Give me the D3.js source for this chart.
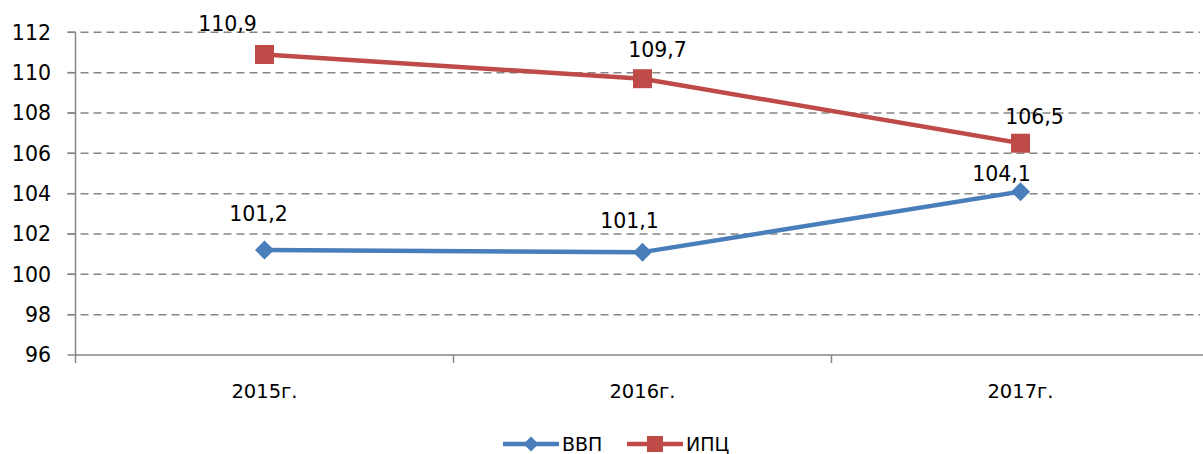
<!DOCTYPE html>
<html>
<head>
<meta charset="utf-8">
<script src="https://cdn.jsdelivr.net/npm/d3@7"></script>
<style>
  body { margin: 0; background: #fff; }
  text { font-family: "DejaVu Sans", sans-serif; fill: #000; }
</style>
</head>
<body>
<script>
var categories = ["2015г.", "2016г.", "2017г."];
var seriesNames = ["ВВП", "ИПЦ"];
var gdpValues = [101.2, 101.1, 104.1];
var cpiValues = [110.9, 109.7, 106.5];
var yTicks = [96, 98, 100, 102, 104, 106, 108, 110, 112];

// label nudges (dx, dy from the point), placed by hand like in the original
var gdpLabelShift = [[-6, -29], [-13, -24], [-19, -11]];
var cpiLabelShift = [[-37, -23], [15, -22], [14, -19]];

var width = 1203, height = 454;
var margin = { top: 32.3, left: 75.5, bottom: 355 };
var blue = "#4A7EBB", red = "#BE4B48", gridColor = "#868686";

var svg = d3.select("body").append("svg")
    .attr("width", width)
    .attr("height", height);

var x = d3.scaleBand()
    .domain(categories)
    .range([margin.left, margin.left + 378 * categories.length]);

var y = d3.scaleLinear()
    .domain([96, 112])
    .range([margin.bottom, margin.top]);

var cx = function (c) { return x(c) + x.bandwidth() / 2; };

// gridlines
svg.selectAll("line.grid")
    .data(yTicks.filter(function (t) { return t > 96; }))
    .enter()
    .append("line")
    .attr("x1", margin.left - 8)
    .attr("x2", 1200)
    .attr("y1", function (d) { return y(d); })
    .attr("y2", function (d) { return y(d); })
    .attr("stroke", gridColor)
    .attr("stroke-width", 1.5)
    .attr("stroke-dasharray", "8,5");

// y axis
svg.append("line")
    .attr("x1", margin.left).attr("x2", margin.left)
    .attr("y1", y(112)).attr("y2", y(96) + 8)
    .attr("stroke", gridColor).attr("stroke-width", 1.5);

svg.selectAll("line.ytick")
    .data(yTicks)
    .enter()
    .append("line")
    .attr("x1", margin.left - 8).attr("x2", margin.left)
    .attr("y1", function (d) { return y(d); })
    .attr("y2", function (d) { return y(d); })
    .attr("stroke", gridColor).attr("stroke-width", 1.5);

svg.selectAll("text.ylab")
    .data(yTicks)
    .enter()
    .append("text")
    .attr("x", 51)
    .attr("y", function (d) { return y(d); })
    .attr("dy", "0.36em")
    .attr("text-anchor", "end")
    .style("font-size", "20.5px")
    .text(function (d) { return d; });

// x axis
svg.append("line")
    .attr("x1", margin.left).attr("x2", width)
    .attr("y1", y(96)).attr("y2", y(96))
    .attr("stroke", gridColor).attr("stroke-width", 1.5);

svg.selectAll("line.xtick")
    .data(categories.slice(1))
    .enter()
    .append("line")
    .attr("x1", function (d) { return x(d); })
    .attr("x2", function (d) { return x(d); })
    .attr("y1", y(96)).attr("y2", y(96) + 8)
    .attr("stroke", gridColor).attr("stroke-width", 1.5);

svg.selectAll("text.xlab")
    .data(categories)
    .enter()
    .append("text")
    .attr("x", cx)
    .attr("y", 398)
    .attr("text-anchor", "middle")
    .style("font-size", "19.5px")
    .text(function (d) { return d; });

var diamond = function (s) {
    return "M0," + (-s) + "L" + s + ",0L0," + s + "L" + (-s) + ",0Z";
};

function drawSeries(values, color, marker, shifts) {
    var line = d3.line()
        .x(function (d, i) { return cx(categories[i]); })
        .y(function (d) { return y(d); });

    svg.append("path")
        .datum(values)
        .attr("d", line)
        .attr("fill", "none")
        .attr("stroke", color)
        .attr("stroke-width", 4.5)
        .attr("stroke-linejoin", "round");

    var g = svg.selectAll(null)
        .data(values)
        .enter()
        .append("g")
        .attr("transform", function (d, i) {
            return "translate(" + cx(categories[i]) + "," + y(d) + ")";
        });

    if (marker === "square") {
        g.append("rect")
            .attr("x", -9.5).attr("y", -9.5)
            .attr("width", 19).attr("height", 19)
            .attr("fill", color);
    } else {
        g.append("path")
            .attr("d", diamond(9.5))
            .attr("fill", color);
    }

    g.append("text")
        .attr("x", function (d, i) { return shifts[i][0]; })
        .attr("y", function (d, i) { return shifts[i][1]; })
        .attr("text-anchor", "middle")
        .style("font-size", "20.5px")
        .text(function (d) { return d3.format(".1f")(d).replace(".", ","); });
}

drawSeries(cpiValues, red, "square", cpiLabelShift);
drawSeries(gdpValues, blue, "diamond", gdpLabelShift);

// legend
var legend = [
    { name: seriesNames[0], color: blue, marker: "diamond", x: 503 },
    { name: seriesNames[1], color: red, marker: "square", x: 627 }
];
var ly = 444;
legend.forEach(function (l) {
    var g = svg.append("g").attr("transform", "translate(" + l.x + "," + ly + ")");
    g.append("line")
        .attr("x1", 0).attr("x2", 56)
        .attr("stroke", l.color).attr("stroke-width", 4.5);
    if (l.marker === "square") {
        g.append("rect").attr("x", 20).attr("y", -8).attr("width", 16).attr("height", 16).attr("fill", l.color);
    } else {
        g.append("path").attr("d", diamond(7.5)).attr("transform", "translate(28,0)").attr("fill", l.color);
    }
    g.append("text")
        .attr("x", 59)
        .attr("y", 7)
        .style("font-size", "19px")
        .text(l.name);
});
</script>
</body>
</html>
